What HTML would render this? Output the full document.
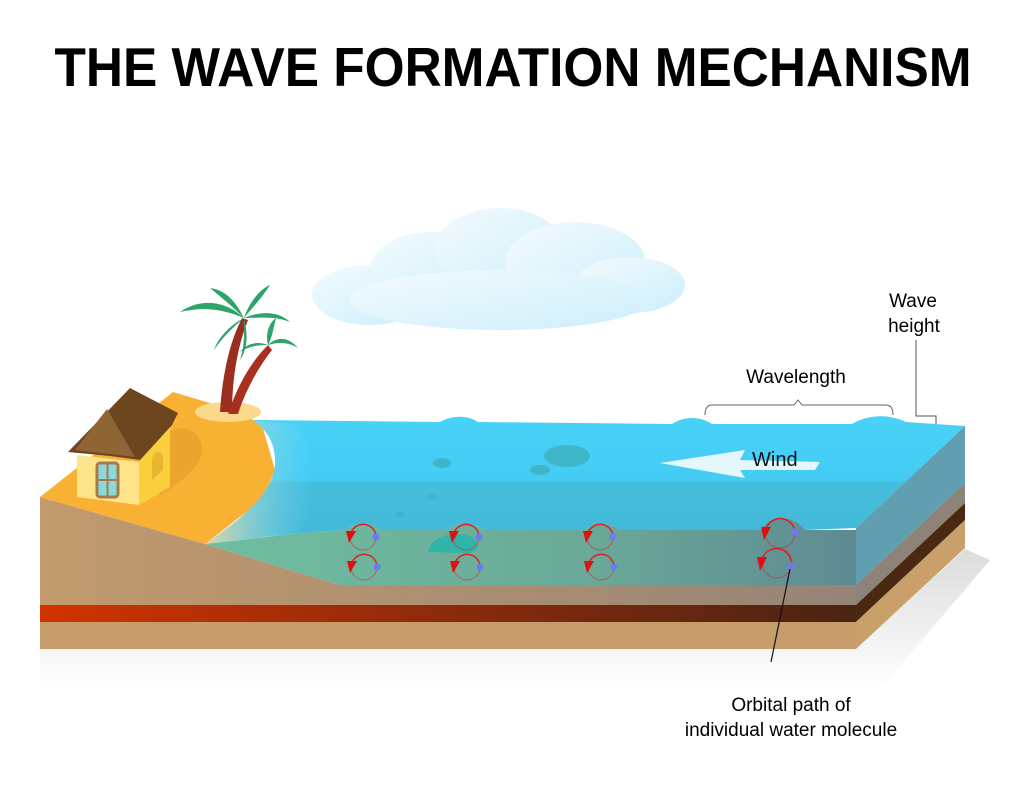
<!DOCTYPE html>
<html><head><meta charset="utf-8"><style>html,body{margin:0;padding:0;background:#fff}svg{display:block}</style></head>
<body>
<svg width="1024" height="800" viewBox="0 0 1024 800" xmlns="http://www.w3.org/2000/svg" font-family="Liberation Sans, sans-serif">
<defs>
<linearGradient id="cloud" x1="0" y1="0" x2="1" y2="1"><stop offset="0" stop-color="#f4fbfe"/><stop offset="1" stop-color="#cdeefb"/></linearGradient>
<linearGradient id="topw" x1="0" y1="0" x2="0" y2="1"><stop offset="0" stop-color="#48d2f8"/><stop offset="0.5" stop-color="#44ccf4"/><stop offset="0.52" stop-color="#45bede"/><stop offset="1" stop-color="#42b8d8"/></linearGradient>
<linearGradient id="green" x1="0" y1="0" x2="1" y2="0"><stop offset="0" stop-color="#6fbea0"/><stop offset="0.6" stop-color="#6aa898"/><stop offset="1" stop-color="#5e8a92"/></linearGradient>
<linearGradient id="red" x1="0" y1="0" x2="1" y2="0"><stop offset="0" stop-color="#d23300"/><stop offset="0.5" stop-color="#8c2a0c"/><stop offset="1" stop-color="#4a2412"/></linearGradient>
<linearGradient id="dirt" x1="0" y1="0" x2="1" y2="0"><stop offset="0" stop-color="#c29a6c"/><stop offset="1" stop-color="#968478"/></linearGradient>
<linearGradient id="shad" x1="0" y1="0" x2="0" y2="1"><stop offset="0" stop-color="#ccc"/><stop offset="1" stop-color="#fff"/></linearGradient>
<linearGradient id="shore" x1="0" y1="0" x2="1" y2="0"><stop offset="0" stop-color="#f3d9a0" stop-opacity="0.9"/><stop offset="1" stop-color="#7fdcf5" stop-opacity="0"/></linearGradient>
</defs>

<text x="513" y="86" font-size="55" font-weight="bold" text-anchor="middle" textLength="917" lengthAdjust="spacingAndGlyphs">THE WAVE FORMATION MECHANISM</text>

<!-- cloud -->
<g fill="url(#cloud)">
<ellipse cx="370" cy="295" rx="58" ry="30"/>
<ellipse cx="430" cy="270" rx="60" ry="38"/>
<ellipse cx="500" cy="250" rx="65" ry="42"/>
<ellipse cx="575" cy="262" rx="70" ry="40"/>
<ellipse cx="630" cy="285" rx="55" ry="28"/>
<ellipse cx="500" cy="300" rx="150" ry="30"/>
</g>

<!-- shadow -->
<polygon points="40,649 856,649 965,549 990,560 880,690 40,690" fill="url(#shad)" opacity="0.7"/>

<!-- side face -->
<polygon points="856,528 965,426 965,483 856,585" fill="#5b8b99"/>
<polygon points="856,585 965,483 965,503 856,605" fill="#8d8378"/>
<polygon points="856,605 965,503 965,520 856,622" fill="#4a2812"/>
<polygon points="856,622 965,520 965,548 856,649" fill="#c9a06a"/>

<!-- front ground -->
<polygon points="40,497 205,544 340,585 856,585 856,605 40,605" fill="url(#dirt)"/>
<rect x="40" y="605" width="816" height="17" fill="url(#red)"/>
<rect x="40" y="622" width="816" height="27" fill="#c69c6b"/>

<!-- green deep water -->
<path d="M205,544 C260,538 300,532 345,530 C352,522 372,522 380,530 L447,530 C455,522 475,522 482,530 L585,530 C592,522 612,522 620,530 L760,530 C770,514 795,514 805,530 L856,530 L856,585 L340,585 Z" fill="url(#green)"/>

<!-- sand top -->
<polygon points="40,497 173,392 240,412 262,425 275,470 262,500 205,544" fill="#f8b133"/>
<ellipse cx="228" cy="412" rx="33" ry="10" fill="#fbd88a"/>
<path d="M150,440 C170,430 190,420 200,440 C210,460 185,480 160,495 Z" fill="#e9a22a" opacity="0.8"/>

<!-- water top surface -->
<path d="M252,420 L440,422 C452,415 468,415 478,422 L672,424 C684,416 700,416 712,424 L852,424 C868,414 890,414 906,422 L965,426 L856,528 L805,530 C795,514 770,514 760,530 L620,530 C612,522 592,522 585,530 L482,530 C475,522 455,522 447,530 L380,530 C372,522 352,522 345,530 C300,532 240,540 205,544 C240,520 272,495 275,465 C276,445 268,430 252,420 Z" fill="url(#topw)"/>
<path d="M252,420 C268,430 276,445 275,465 C272,495 240,520 205,544 L300,533 C320,500 315,460 300,425 Z" fill="url(#shore)"/>
<polygon points="856,528 965,426 965,483 856,585" fill="#6ed8f6" opacity="0.25"/>

<!-- blobs -->
<g fill="#3fb5c8">
<ellipse cx="567" cy="456" rx="23" ry="11"/>
<ellipse cx="540" cy="470" rx="10" ry="5"/>
<ellipse cx="442" cy="463" rx="9" ry="5"/>
<ellipse cx="432" cy="497" rx="6" ry="3"/>
<ellipse cx="400" cy="515" rx="5" ry="3"/>
</g>
<path d="M428,552 C430,538 450,530 470,536 C482,542 478,552 470,553 Z" fill="#30b5a8"/>

<!-- wind -->
<polygon points="660,463 745,450 740,460 820,462 815,470 740,470 745,478" fill="#e4f7fd"/>
<text x="752" y="466" font-size="20" fill="#111">Wind</text>

<!-- orbits -->
<g fill="none" stroke="#e02020" stroke-width="1.4">
<circle cx="363" cy="537" r="13" opacity="0.55" stroke-width="1"/><path d="M376,535 A13,13 0 0,0 351,533"/>
<circle cx="364" cy="567" r="13" opacity="0.55" stroke-width="1"/><path d="M377,565 A13,13 0 0,0 352,563"/>
<circle cx="466" cy="537" r="13" opacity="0.55" stroke-width="1"/><path d="M479,535 A13,13 0 0,0 454,533"/>
<circle cx="467" cy="567" r="13" opacity="0.55" stroke-width="1"/><path d="M480,565 A13,13 0 0,0 455,563"/>
<circle cx="600" cy="537" r="13" opacity="0.55" stroke-width="1"/><path d="M613,535 A13,13 0 0,0 588,533"/>
<circle cx="601" cy="567" r="13" opacity="0.55" stroke-width="1"/><path d="M614,565 A13,13 0 0,0 589,563"/>
<circle cx="780" cy="533" r="15" opacity="0.55" stroke-width="1"/><path d="M795,531 A15,15 0 0,0 766,529"/>
<circle cx="777" cy="563" r="15" opacity="0.55" stroke-width="1"/><path d="M791,561 A15,15 0 0,0 762,559"/>
</g>
<g fill="#e01010">
<polygon points="346,531 356,531 349,543"/><polygon points="347,561 357,561 350,573"/>
<polygon points="449,531 459,531 452,543"/><polygon points="450,561 460,561 453,573"/>
<polygon points="583,531 593,531 586,543"/><polygon points="584,561 594,561 587,573"/>
<polygon points="761,527 771,527 764,540"/><polygon points="757,557 767,557 760,571"/>
</g>
<g fill="#6a7cf0">
<circle cx="376" cy="537" r="3.5"/><circle cx="377" cy="567" r="3.5"/>
<circle cx="479" cy="537" r="3.5"/><circle cx="480" cy="567" r="3.5"/>
<circle cx="613" cy="537" r="3.5"/><circle cx="614" cy="567" r="3.5"/>
<circle cx="795" cy="532" r="3.5"/><circle cx="791" cy="567" r="3.5"/>
</g>

<!-- palm trees -->
<path d="M220,412 C222,380 228,345 242,318 L248,320 C236,350 232,385 232,412 Z" fill="#9b2e1e"/>
<path d="M228,414 C236,390 248,365 268,345 L272,350 C256,370 244,395 238,414 Z" fill="#a9301f"/>
<g fill="#2fa46a">
<path d="M244,318 C225,300 200,298 180,312 C205,306 225,310 244,318 Z"/>
<path d="M244,318 C235,300 225,290 210,288 C222,298 232,306 244,318 Z"/>
<path d="M244,318 C250,300 262,288 270,285 C262,298 252,308 244,318 Z"/>
<path d="M244,318 C262,310 280,312 290,322 C275,316 260,318 244,318 Z"/>
<path d="M244,318 C248,335 248,348 240,360 C245,345 244,332 244,318 Z"/>
<path d="M244,318 C230,325 218,338 214,350 C222,338 232,328 244,318 Z"/>
<path d="M268,345 C278,335 290,338 298,348 C288,342 278,342 268,345 Z"/>
<path d="M268,345 C265,332 270,322 276,318 C273,330 272,338 268,345 Z"/>
<path d="M268,345 C256,340 245,345 240,352 C250,346 258,345 268,345 Z"/>
</g>

<!-- house -->
<polygon points="77,455 139,462 139,505 77,497" fill="#fde38a"/>
<polygon points="139,462 170,427 170,487 139,505" fill="#f9cf3c"/>
<path d="M152,480 L152,462 C152,450 163,448 163,460 L163,470 Z" fill="#e8b52e"/>
<polygon points="68,452 130,388 178,413 172,425 140,460 110,456" fill="#6d4620"/>
<polygon points="75,450 107,409 135,457" fill="#8f6535"/>
<rect x="97" y="463" width="21" height="34" rx="3" fill="#8ad9d8" stroke="#a77a4a" stroke-width="3"/>
<line x1="107.5" y1="463" x2="107.5" y2="497" stroke="#a77a4a" stroke-width="2"/>
<line x1="97" y1="480" x2="118" y2="480" stroke="#a77a4a" stroke-width="2"/>

<!-- labels -->
<text x="796" y="383" font-size="19" text-anchor="middle">Wavelength</text>
<path d="M705,415 Q705,405 712,405 L794,405 L798,400 L802,405 L886,405 Q893,405 893,415" fill="none" stroke="#666" stroke-width="1"/>
<text x="913" y="307" font-size="19" text-anchor="middle">Wave</text>
<text x="914" y="332" font-size="19" text-anchor="middle">height</text>
<path d="M916,340 L916,416 L936,416 L936,424" fill="none" stroke="#555" stroke-width="1"/>
<line x1="790" y1="569" x2="771" y2="662" stroke="#111" stroke-width="1.2"/>
<text x="791" y="711" font-size="19" text-anchor="middle">Orbital path of</text>
<text x="791" y="736" font-size="19" text-anchor="middle">individual water molecule</text>
</svg>
</body></html>
